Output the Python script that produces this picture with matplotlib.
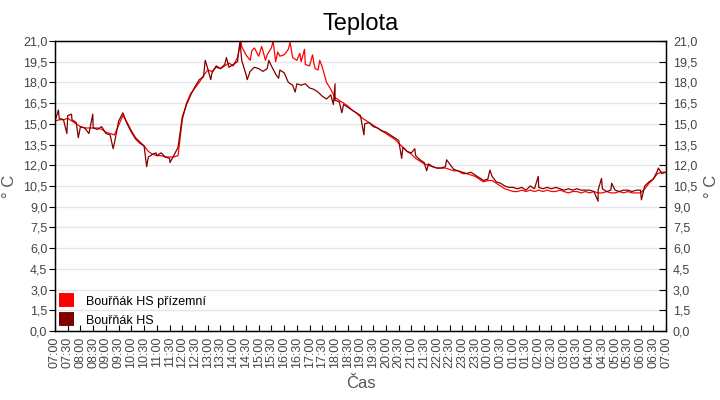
import matplotlib
matplotlib.use("Agg")
import matplotlib.pyplot as plt
import matplotlib.dates as mdates
import pandas as pd

plt.rcParams['font.family'] = ['Liberation Sans', 'DejaVu Sans']

# 10 minute samples, 07:00 .. 07:00 next day
times = pd.date_range("2020-01-01 07:00", "2020-01-02 07:00", freq="10min")

# Bouřňák HS (dark red)
hs = [
    15.2, 15.4, 15.3, 15.6, 15.3, 15.1,   # 07
    14.8, 14.7, 14.3, 14.7, 14.6, 14.8,   # 08
    14.3, 14.2, 13.6, 15.2, 15.8, 15.0,   # 09
    14.4, 13.9, 13.6, 13.4, 12.6, 12.8,   # 10
    12.7, 12.9, 12.6, 12.5, 12.7, 13.3,   # 11
    15.5, 16.4, 17.1, 17.7, 18.2, 18.4,   # 12
    19.0, 18.7, 19.2, 19.0, 19.3, 19.1,   # 13
    19.3, 19.5, 19.6, 18.6, 18.8, 19.1,   # 14
    19.0, 18.8, 19.0, 19.2, 18.6, 18.9,   # 15
    18.7, 18.0, 17.8, 17.9, 17.8, 17.9,   # 16
    17.6, 17.5, 17.3, 17.0, 16.8, 17.1,   # 17
    16.7, 16.6, 16.4, 16.2, 16.0, 15.8,   # 18
    15.6, 15.0, 15.1, 14.8, 14.7, 14.5,   # 19
    14.4, 14.2, 14.0, 13.8, 13.3, 13.0,   # 20
    12.9, 12.7, 12.4, 12.2, 12.1, 11.9,   # 21
    11.8, 11.8, 11.9, 12.1, 11.7, 11.6,   # 22
    11.5, 11.4, 11.5, 11.3, 11.1, 10.9,   # 23
    11.0, 11.2, 10.8, 10.7, 10.5, 10.4,   # 00
    10.4, 10.3, 10.4, 10.2, 10.5, 10.3,   # 01
    10.4, 10.3, 10.4, 10.3, 10.4, 10.3,   # 02
    10.2, 10.3, 10.2, 10.3, 10.2, 10.2,   # 03
    10.2, 10.1, 10.2, 10.3, 10.1, 10.2,   # 04
    10.2, 10.1, 10.2, 10.2, 10.1, 10.2,   # 05
    10.2, 10.5, 10.8, 11.0, 11.6, 11.4,   # 06
    11.5,
]

# short single readings (spikes) of Bouřňák HS
hs_spike_times = ["07:08", "07:28", "07:39", "07:55", "08:29", "09:17", "10:36",
                  "10:58", "11:31", "12:54", "13:07", "13:44", "14:16", "14:33",
                  "15:24", "15:47", "16:26", "17:56", "18:00", "18:16",
                  "19:08", "20:37", "21:08", "21:36", "22:23", "00:05", "01:59",
                  "04:20", "04:28", "04:52", "06:02", "06:42"]
hs_spike_values = [16.0, 14.3, 15.7, 14.0, 15.7, 13.2, 11.9,
                   12.9, 12.2, 19.6, 18.2, 19.8, 21.0, 18.2,
                   19.6, 18.3, 17.3, 16.4, 17.9, 15.8,
                   14.2, 12.5, 13.2, 11.6, 12.4, 11.65, 11.2,
                   9.4, 11.05, 10.7, 9.5, 11.8]

# Bouřňák HS přízemní (red)
hs_ground = [
    15.2, 15.3, 15.3, 15.4, 15.2, 15.0,
    14.8, 14.7, 14.7, 14.7, 14.7, 14.6,
    14.4, 14.3, 14.2, 14.9, 15.6, 15.1,
    14.5, 14.0, 13.7, 13.4, 13.0, 12.8,
    12.7, 12.7, 12.6, 12.6, 12.6, 12.7,
    15.3, 16.5, 17.2, 17.6, 18.0, 18.5,
    18.9, 18.8, 19.1, 19.0, 19.2, 19.4,
    19.2, 19.8, 20.6, 20.0, 19.6, 20.5,
    19.9, 20.3, 20.0, 20.5, 19.5, 19.9,
    20.0, 20.4, 19.8, 19.6, 19.5, 19.3,
    19.2, 19.4, 18.9, 19.1, 18.0, 17.5,
    16.9, 16.7, 16.5, 16.3, 16.0, 15.8,
    15.5, 15.3, 15.1, 14.9, 14.7, 14.5,
    14.3, 14.1, 13.9, 13.6, 13.3, 13.0,
    12.8, 12.5, 12.3, 12.1, 12.0, 11.9,
    11.8, 11.8, 11.8, 11.7, 11.6, 11.6,
    11.4, 11.4, 11.3, 11.2, 11.0, 10.8,
    10.9, 10.9, 10.7, 10.5, 10.3, 10.2,
    10.1, 10.1, 10.2, 10.1, 10.2, 10.1,
    10.2, 10.1, 10.2, 10.1, 10.1, 10.2,
    10.1, 10.0, 10.1, 10.1, 10.0, 10.1,
    10.0, 10.1, 10.0, 10.0, 10.1, 10.0,
    10.0, 10.1, 10.0, 10.1, 10.0, 10.0,
    10.0, 10.3, 10.7, 11.0, 11.4, 11.5,
    11.5,
]

ground_spike_times = ["14:18", "14:44", "15:07", "15:16", "15:34", "15:45",
                      "16:14", "16:37", "16:48", "17:07", "17:13", "17:24"]
ground_spike_values = [21.0, 20.3, 20.6, 19.6, 21.0, 20.2,
                       20.9, 20.1, 20.4, 20.0, 19.0, 19.6]

y_ticks = [i * 1.5 for i in range(15)]
gray = '#444444'


def with_spikes(values, spike_times, spike_values):
    s = pd.Series(values, index=times)
    idx = []
    for t in spike_times:
        day = "2020-01-01" if t >= "07:00" else "2020-01-02"
        idx.append(pd.Timestamp(f"{day} {t}"))
    extra = pd.Series(spike_values, index=idx)
    return pd.concat([s, extra]).sort_index()


hs_s = with_spikes(hs, hs_spike_times, hs_spike_values)
ground_s = with_spikes(hs_ground, ground_spike_times, ground_spike_values)

fig = plt.figure(figsize=(7.2, 4), dpi=100)
ax = fig.add_axes([55 / 720, 69 / 400, 611 / 720, 290 / 400])

ax.plot(ground_s.index, ground_s.values, color='#ff0000', lw=0.9, label='Bouřňák HS přízemní')
ax.plot(hs_s.index, hs_s.values, color='#800000', lw=0.9, label='Bouřňák HS')

ax.set_xlim(times[0], times[-1])
ax.set_ylim(0, 21)
ax.set_yticks(y_ticks)
ax.set_yticklabels([f"{v:.1f}".replace('.', ',') for v in y_ticks])
ax.grid(axis='y', color='#e6e6e6', lw=1)
ax.set_axisbelow(True)

ax.xaxis.set_major_locator(mdates.MinuteLocator(byminute=[0, 30]))
ax.xaxis.set_major_formatter(mdates.DateFormatter('%H:%M'))
ax.tick_params(axis='x', direction='in', length=4, labelrotation=90,
               labelsize=9, labelcolor=gray, pad=4)
ax.tick_params(axis='y', direction='out', length=4, labelsize=9, labelcolor=gray, pad=1.5)

for s in ax.spines.values():
    s.set_color('black')
    s.set_linewidth(1)

ax2 = ax.twinx()
ax2.set_ylim(0, 21)
ax2.set_yticks(y_ticks)
ax2.set_yticklabels([f"{v:.1f}".replace('.', ',') for v in y_ticks])
ax2.tick_params(axis='y', direction='in', length=5, labelsize=9, labelcolor=gray, pad=5)

ax.set_ylabel('° C', fontsize=12, color='#555555')
ax.yaxis.set_label_coords(-0.062, 0.5)
ax2.set_ylabel('° C', fontsize=12, color='#555555', rotation=90)
ax2.yaxis.set_label_coords(1.062, 0.5)
ax.set_xlabel('Čas', fontsize=12, color='#555555', labelpad=6)
ax.set_title('Teplota', fontsize=17, pad=8)

leg = ax.legend(loc='lower left', frameon=False, fontsize=9, handlelength=1.2,
                handleheight=1.0, handletextpad=1.0, labelspacing=0.55,
                borderaxespad=0.1, borderpad=0.2)
for h in leg.legend_handles:
    h.set_linewidth(10)
    h.set_solid_capstyle('butt')

fig.savefig('out.png', dpi=100)
